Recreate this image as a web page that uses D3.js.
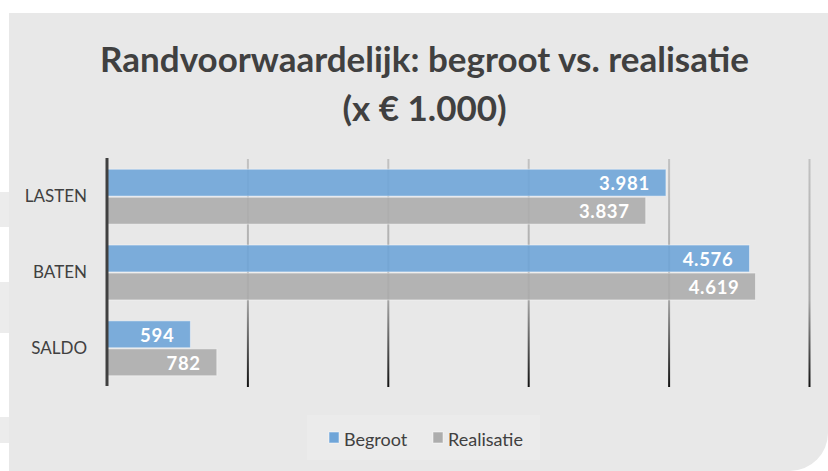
<!DOCTYPE html>
<html>
<head>
<meta charset="utf-8">
<script src="https://cdn.jsdelivr.net/npm/d3@7"></script>
<style>
  html, body { margin: 0; padding: 0; background: #ffffff; }
  svg { display: block; }
</style>
</head>
<body>
<svg id="chart" width="828" height="471"></svg>
<script>
// ---- data ----
const categories = ["LASTEN", "BATEN", "SALDO"];
const seriesNames = ["Begroot", "Realisatie"];
const begroot = [3981, 4576, 594];
const realisatie = [3837, 4619, 782];
const valueLabels = { Begroot: ["3.981", "4.576", "594"], Realisatie: ["3.837", "4.619", "782"] };
const xTicks = [0, 1000, 2000, 3000, 4000, 5000];
const titleLines = ["Randvoorwaardelijk: begroot vs. realisatie", "(x € 1.000)"];

const colors = { Begroot: "#6fa5d8", Realisatie: "#adadad" };
const textColor = "#404040";
const font = "Lato, 'Open Sans', sans-serif";

const svg = d3.select("#chart");
const W = 828, H = 471;

// left page strips
[[192, 227], [282, 333], [417, 443]].forEach(([a, b]) => {
  svg.append("rect").attr("x", 0).attr("y", a).attr("width", 10).attr("height", b - a).attr("fill", "#ececec");
});

// panel with rounded bottom-right corner
const px = 9, py = 13, r = 38;
svg.append("path")
  .attr("d", `M${px},${py} H${W} V${H - r} A${r},${r} 0 0 1 ${W - r},${H} H${px} Z`)
  .attr("fill", "#e8e8e8");

// ---- title (slightly condensed to mimic Calibri Bold) ----
const titleFs = 35;
const cx = 424.5;
const tg = svg.append("g");
const tEls = titleLines.map((t, i) => tg.append("text")
  .attr("x", 0)
  .attr("y", 0)
  .attr("text-anchor", "middle")
  .attr("font-family", font)
  .attr("font-weight", "bold")
  .attr("font-size", titleFs)
  .attr("fill", textColor)
  .text(t));
const sx = 649 / tEls[0].node().getComputedTextLength();
tEls.forEach((el, i) => el.attr("transform", `translate(${cx},${i === 0 ? 72 : 121}) scale(${sx},1)`));

// ---- scales ----
const x = d3.scaleLinear().domain([0, 5000]).range([107, 809]);
const y = d3.scaleBand().domain(categories).range([159, 386]).paddingInner(0.276).paddingOuter(0.135);
const ySub = d3.scaleBand().domain(seriesNames).range([0, y.bandwidth()]).paddingInner(0.04);

// gradient for gridlines (in the grid group's local coords: -228..0)
const gridH = 387 - 159;
const defs = svg.append("defs");
const grad = defs.append("linearGradient").attr("id", "gridGrad")
  .attr("gradientUnits", "userSpaceOnUse").attr("x1", 0).attr("x2", 0).attr("y1", -gridH).attr("y2", 0);
grad.append("stop").attr("offset", "0").attr("stop-color", "#c2c2c2");
grad.append("stop").attr("offset", "0.62").attr("stop-color", "#a6a6a6");
grad.append("stop").attr("offset", "1").attr("stop-color", "#111111");

// gridlines via axis
const gridAxis = d3.axisBottom(x).tickValues(xTicks.slice(1)).tickSize(-gridH).tickFormat("");
const g = svg.append("g").attr("transform", "translate(0,387)").call(gridAxis);
g.select(".domain").remove();
g.selectAll(".tick line").attr("stroke", "url(#gridGrad)").attr("stroke-width", 2);

// bars
const series = [
  { name: "Begroot", values: begroot },
  { name: "Realisatie", values: realisatie }
];
series.forEach(s => {
  const gg = svg.append("g");
  gg.selectAll("rect").data(categories).join("rect")
    .attr("x", x(0))
    .attr("y", c => y(c) + ySub(s.name))
    .attr("width", (c, i) => x(s.values[i]) - x(0))
    .attr("height", ySub.bandwidth())
    .attr("fill", colors[s.name])
    .attr("fill-opacity", 0.9)
    .attr("stroke", "rgba(255,255,255,0.45)")
    .attr("stroke-width", 1);
  gg.selectAll("text").data(categories).join("text")
    .attr("x", (c, i) => x(s.values[i]) - 16)
    .attr("y", c => y(c) + ySub(s.name) + ySub.bandwidth() / 2 + 1)
    .attr("dy", "0.35em")
    .attr("text-anchor", "end")
    .attr("font-family", font)
    .attr("font-weight", "bold")
    .attr("font-size", 18.5)
    .attr("letter-spacing", "0.7px")
    .attr("fill", "#ffffff")
    .text((c, i) => valueLabels[s.name][i]);
});

// y axis
const yAxis = d3.axisLeft(y).tickSize(0).tickPadding(20);
const ya = svg.append("g").attr("transform", `translate(${x(0)},0)`).call(yAxis);
ya.select(".domain").remove();
ya.selectAll("text").attr("font-family", font).attr("font-size", 17).attr("fill", textColor);
svg.append("line").attr("x1", x(0)).attr("x2", x(0)).attr("y1", 158).attr("y2", 386)
  .attr("stroke", "#404040").attr("stroke-width", 3);

// legend
const lg = svg.append("g");
lg.append("rect").attr("x", 307).attr("y", 415).attr("width", 233).attr("height", 45).attr("fill", "#ebebeb");
const legendItems = [{ name: "Begroot", x: 329 }, { name: "Realisatie", x: 433 }];
legendItems.forEach(it => {
  lg.append("rect").attr("x", it.x).attr("y", 432).attr("width", 10).attr("height", 11)
    .attr("fill", colors[it.name]).attr("stroke", "rgba(255,255,255,0.5)").attr("stroke-width", 1);
  lg.append("text").attr("x", it.x + 15).attr("y", 446)
    .attr("font-family", font).attr("font-size", 18).attr("fill", textColor).text(it.name);
});
</script>
</body>
</html>
